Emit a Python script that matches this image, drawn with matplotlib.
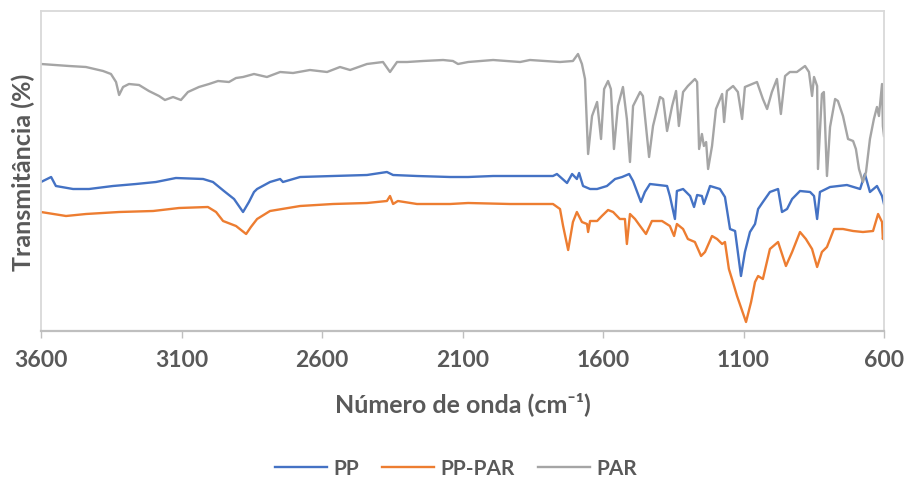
import numpy as np
import matplotlib
matplotlib.use('Agg')
import matplotlib.pyplot as plt

# wavenumber (cm-1) and transmittance (arbitrary units, offset spectra)
par_wn = [3600, 3500, 3440, 3379, 3351, 3333, 3322, 3308, 3287, 3251, 3216, 3180, 3159, 3130,
          3102, 3077, 3038, 3002, 2970, 2931, 2906, 2881, 2842, 2796, 2749, 2703, 2643, 2582,
          2536, 2500, 2440, 2383, 2358, 2333, 2297, 2241, 2169, 2134, 2116, 2080, 1991, 1895,
          1860, 1753, 1707, 1689, 1675, 1664, 1653, 1639, 1621, 1607, 1596, 1582, 1572, 1561,
          1547, 1529, 1515, 1504, 1493, 1468, 1458, 1436, 1422, 1397, 1386, 1372, 1354, 1340,
          1330, 1315, 1298, 1273, 1265, 1258, 1248, 1241, 1233, 1226, 1212, 1198, 1176, 1169,
          1159, 1137, 1120, 1105, 1095, 1052, 1031, 1016, 999, 981, 967, 952, 935, 910, 881,
          867, 856, 849, 838, 835, 821, 814, 803, 792, 774, 764, 746, 728, 710, 700, 689, 675,
          664, 650, 636, 625, 618, 607, 604, 600]
par_t = [267, 265, 264, 260, 257, 249, 236, 244, 247, 246, 240, 235, 231, 234,
         231, 239, 244, 247, 250, 249, 253, 254, 257, 254, 259, 258, 261, 259,
         264, 261, 267, 269, 259, 269, 269, 270, 271, 270, 267, 269, 271, 269,
         271, 269, 270, 277, 267, 252, 177, 215, 229, 192, 242, 250, 242, 182,
         225, 244, 212, 169, 225, 239, 235, 174, 205, 234, 232, 200, 225, 240,
         205, 239, 245, 252, 249, 182, 197, 185, 189, 162, 185, 222, 237, 209,
         240, 245, 239, 212, 244, 249, 232, 222, 239, 252, 217, 255, 259, 259, 265,
         259, 235, 254, 245, 162, 237, 239, 155, 204, 232, 230, 215, 192, 190, 182, 162, 149,
         159, 192, 212, 224, 215, 247, 205, 195]

pp_wn = [3600, 3564, 3547, 3486, 3429, 3344, 3262, 3191, 3120, 3023, 2988, 2949, 2913, 2881,
         2860, 2842, 2831, 2785, 2749, 2739, 2678, 2561, 2440, 2369, 2347, 2262, 2144, 2080,
         1991, 1870, 1778, 1764, 1728, 1710, 1693, 1685, 1671, 1646, 1621, 1586, 1557, 1532,
         1507, 1493, 1465, 1451, 1433, 1372, 1362, 1344, 1337, 1315, 1290, 1276, 1265, 1248,
         1241, 1219, 1184, 1166, 1148, 1130, 1109, 1095, 1077, 1059, 1048, 1031, 1006, 977,
         963, 945, 927, 899, 863, 849, 838, 828, 792, 732, 685, 668, 650, 625, 607, 600]
pp_t = [149, 154, 145, 142, 142, 145, 147, 149, 153, 152, 149, 140, 132, 119,
        129, 139, 142, 149, 152, 149, 154, 155, 156, 159, 156, 155, 154, 154,
        155, 155, 155, 157, 148, 157, 152, 158, 145, 142, 142, 145, 152, 154,
        157, 150, 129, 139, 147, 145, 135, 112, 140, 142, 135, 124, 136, 135,
        127, 145, 142, 134, 102, 100, 55, 79, 99, 107, 122, 129, 139, 142,
        119, 122, 132, 140, 139, 135, 112, 139, 144, 146, 142, 157, 139, 145, 135, 127]

pppar_wn = [3600, 3511, 3440, 3322, 3201, 3109, 3006, 2977, 2952, 2906, 2870, 2853, 2831, 2785,
            2678, 2561, 2440, 2369, 2358, 2347, 2330, 2262, 2144, 2080, 1931, 1778, 1753, 1742,
            1724, 1707, 1693, 1675, 1657, 1653, 1646, 1621, 1604, 1582, 1564, 1540, 1522, 1515,
            1504, 1486, 1468, 1447, 1426, 1390, 1362, 1347, 1337, 1315, 1298, 1273, 1251, 1237,
            1212, 1194, 1176, 1166, 1152, 1141, 1123, 1091, 1073, 1059, 1048, 1031, 1006, 977,
            949, 927, 899, 878, 856, 838, 821, 803, 796, 778, 746, 710, 675, 639, 621, 607, 604, 600]
pppar_t = [119, 115, 117, 119, 120, 123, 124, 119, 110, 105, 97, 104, 112, 120,
           125, 127, 128, 130, 135, 127, 130, 127, 127, 128, 127, 127, 122, 105,
           81, 109, 119, 109, 107, 99, 110, 110, 115, 121, 119, 112, 112, 87,
           117, 112, 105, 97, 110, 110, 105, 95, 107, 102, 92, 89, 75, 79,
           95, 92, 87, 89, 62, 52, 35, 9, 29, 49, 55, 52, 82, 89,
           65, 79, 99, 92, 82, 64, 79, 84, 89, 102, 102, 100, 99, 100, 117, 109, 92, 99]

labels = ['PP', 'PP-PAR', 'PAR']
colors = ['#4472C4', '#ED7D31', '#A5A5A5']
xticks = [3600, 3100, 2600, 2100, 1600, 1100, 600]

plt.rcParams['font.family'] = ['Lato', 'DejaVu Sans']
plt.rcParams['font.weight'] = 'bold'
txt = '#595959'

fig = plt.figure(figsize=(9.06, 4.81), dpi=100)
ax = fig.add_axes([41/906, 1-332/481, 843/906, 320/481])

ax.plot(pp_wn, pp_t, color=colors[0], lw=1.7, label=labels[0])
ax.plot(pppar_wn, pppar_t, color=colors[1], lw=1.7, label=labels[1])
ax.plot(par_wn, par_t, color=colors[2], lw=1.7, label=labels[2])

ax.set_xlim(3600, 600)
ax.set_ylim(0, 320)
ax.set_xticks(xticks)
ax.set_xticklabels([str(t) for t in xticks])
ax.set_yticks([])
ax.tick_params(axis='x', direction='out', length=5, width=1, color='#BFBFBF',
               labelsize=16.5, labelcolor=txt, pad=8)
for s in ['left', 'right', 'top']:
    ax.spines[s].set_color('#D9D9D9')
    ax.spines[s].set_linewidth(1.3)
ax.spines['bottom'].set_color('#BFBFBF')
ax.spines['bottom'].set_linewidth(1.6)

ax.set_xlabel('Número de onda (cm⁻¹)', fontsize=18, color=txt, fontweight='bold', va='center')
ax.xaxis.set_label_coords(0.5, -72/320)
ax.set_ylabel('Transmitância (%)', fontsize=18, color=txt, fontweight='bold', va='center')
ax.yaxis.set_label_coords(-18/843, 0.5)

# legend sits at the very bottom edge, as in the source figure
fig.legend(loc='center', bbox_to_anchor=(456/906, 1-469/481), ncol=3, frameon=False,
           prop={'family': ['Lato', 'DejaVu Sans'], 'weight': 'bold', 'size': 15},
           labelcolor=txt, handlelength=2.5, columnspacing=1.1, handletextpad=0.3)

fig.savefig('out.png', dpi=100)
